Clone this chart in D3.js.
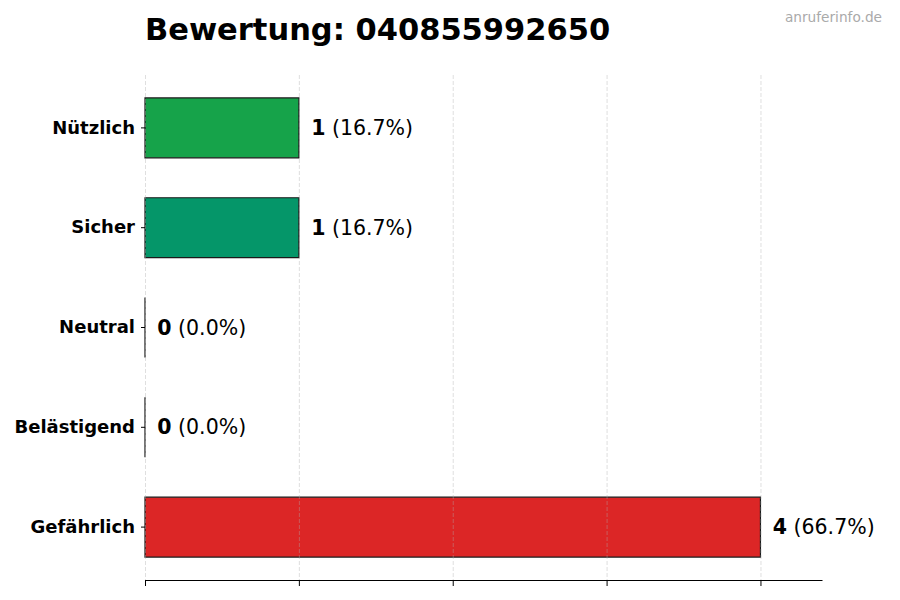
<!DOCTYPE html>
<html>
<head>
<meta charset="utf-8">
<script src="https://cdn.jsdelivr.net/npm/d3@7"></script>
<style>
    body { margin: 0; background: #fff; }
    svg { display: block; font-family: "DejaVu Sans", sans-serif; }
</style>
</head>
<body>
<div id="chart"></div>
<script>
// data
var categories = [ 'Nützlich', 'Sicher', 'Neutral', 'Belästigend', 'Gefährlich' ];
var counts = [ 1, 1, 0, 0, 4 ];
var percents = [ '16.7%', '16.7%', '0.0%', '0.0%', '66.7%' ];
var colors = [ '#16a34a', '#059669', '#9ca3af', '#f97316', '#dc2626' ];
var xTicks = [ 0, 1, 2, 3, 4 ];

var title = 'Bewertung: 040855992650',
    watermark = 'anruferinfo.de';

var width = 900,
    height = 600;

var margin = { left: 145, right: 78, top: 75, bottom: 20 };

var svg = d3.select('#chart')
    .append('svg')
        .attr('width', width)
        .attr('height', height);

var innerW = width - margin.left - margin.right,
    innerH = height - margin.top - margin.bottom;

var g = svg.append('g')
    .attr('transform', 'translate(' + margin.left + ', ' + margin.top + ')');

// scales
var x = d3.scaleLinear()
    .domain([0, d3.max(counts) * 1.1])
    .range([0, innerW]);

var y = d3.scaleBand()
    .domain(categories)
    .range([0, innerH])
    .paddingInner(0.4)
    .paddingOuter(0.23);

// bars as paths so zero values still show their edge line
g.selectAll('path.bar')
    .data(categories)
    .enter()
    .append('path')
        .attr('class', 'bar')
        .attr('d', (d, i) => {
            var x0 = x(0), x1 = x(counts[i]), y0 = y(d), y1 = y(d) + y.bandwidth();
            return 'M' + x0 + ',' + y0 + 'H' + x1 + 'V' + y1 + 'H' + x0 + 'Z';
        })
        .attr('fill', (d, i) => colors[i])
        .attr('stroke', '#1a1a1a')
        .attr('stroke-width', 1.2);

// grid on top of bars
g.selectAll('line.grid')
    .data(xTicks)
    .enter()
    .append('line')
        .attr('class', 'grid')
        .attr('x1', d => x(d) + 0.5)
        .attr('x2', d => x(d) + 0.5)
        .attr('y1', 0)
        .attr('y2', innerH)
        .attr('stroke', '#b0b0b0')
        .attr('stroke-opacity', 0.5)
        .attr('stroke-dasharray', '4,2')
        .attr('stroke-width', 0.8);

// x axis
var xAxisGroup = g.append('g')
    .attr('transform', 'translate(0, ' + innerH + ')')
    .call(d3.axisBottom(x).tickValues(xTicks).tickFormat('').tickSize(6).tickSizeOuter(0));
xAxisGroup.select('.domain').attr('stroke', '#000').attr('stroke-width', 1.2);
xAxisGroup.selectAll('.tick line').attr('stroke', '#000').attr('stroke-width', 1);

// y axis (ticks + labels only)
var yAxisGroup = g.append('g')
    .call(d3.axisLeft(y).tickSize(4).tickPadding(6));
yAxisGroup.select('.domain').remove();
yAxisGroup.selectAll('.tick line').attr('stroke', '#000');
yAxisGroup.selectAll('.tick text')
    .attr('font-size', '18px')
    .attr('font-weight', 'bold')
    .attr('fill', '#000')
    .attr('font-family', '"DejaVu Sans", sans-serif');

// value labels
var labels = g.selectAll('text.value')
    .data(categories)
    .enter()
    .append('text')
        .attr('class', 'value')
        .attr('x', (d, i) => x(counts[i] + 0.08))
        .attr('y', d => y(d) + y.bandwidth() / 2)
        .attr('dy', '0.35em')
        .attr('font-size', '20.5px')
        .attr('fill', '#000');

labels.append('tspan')
    .attr('font-weight', 'bold')
    .text((d, i) => counts[i]);

labels.append('tspan')
    .text((d, i) => ' (' + percents[i] + ')');

// title
svg.append('text')
    .attr('x', margin.left)
    .attr('y', 40)
    .attr('font-size', '30.5px')
    .attr('font-weight', 'bold')
    .attr('fill', '#000')
    .text(title);

// watermark
svg.append('text')
    .attr('x', 882)
    .attr('y', 22)
    .attr('text-anchor', 'end')
    .attr('font-size', '13.7px')
    .attr('fill', '#aaaaaa')
    .text(watermark);
</script>
</body>
</html>
